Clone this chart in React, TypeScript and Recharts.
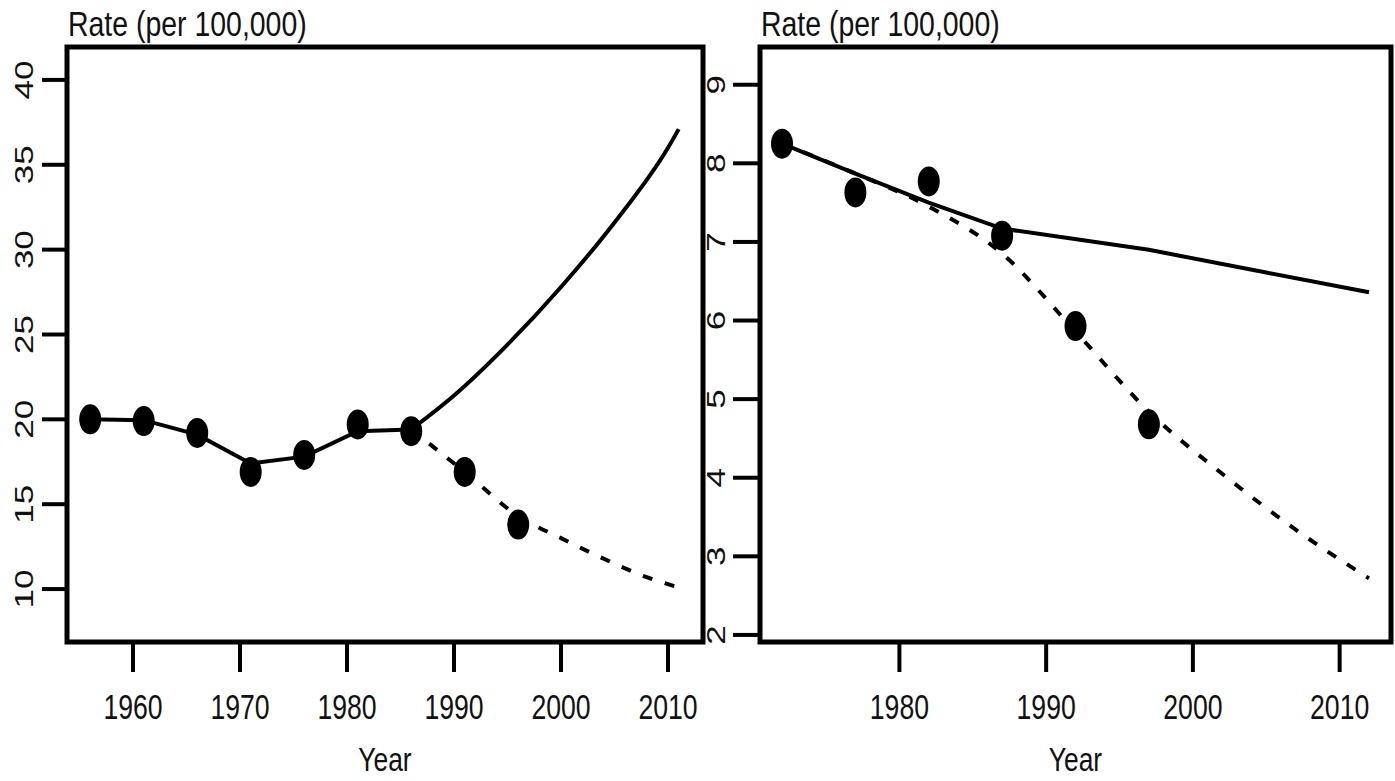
import { Line, LineChart, ReferenceArea, XAxis, YAxis } from 'recharts';

// left panel: observed points + fitted/projection lines
const leftObsYears = [1956, 1961, 1966, 1971, 1976, 1981, 1986, 1991, 1996];
const leftObsRate = [20.0, 19.9, 19.2, 16.9, 17.9, 19.7, 19.3, 16.9, 13.8];
const leftFitYears = [1956, 1961, 1966, 1971, 1976, 1981, 1986];
const leftFitRate = [20.0, 19.95, 19.1, 17.4, 17.8, 19.3, 19.4];
const leftHighYears = [1986, 1990, 1995, 2000, 2005, 2010, 2011];
const leftHighRate = [19.4, 21.4, 24.4, 27.8, 31.6, 36.0, 37.1];
const leftLowYears = [1986, 1991, 1996, 2000, 2005, 2008, 2011];
const leftLowRate = [19.4, 16.9, 14.3, 13.0, 11.5, 10.7, 10.1];
const leftXTicks = [1960, 1970, 1980, 1990, 2000, 2010];
const leftYTicks = [10, 15, 20, 25, 30, 35, 40];

// right panel
const rightObsYears = [1972, 1977, 1982, 1987, 1992, 1997];
const rightObsRate = [8.25, 7.63, 7.77, 7.08, 5.93, 4.68];
const rightHighYears = [1972, 1977, 1982, 1987, 1997, 2005, 2012];
const rightHighRate = [8.25, 7.87, 7.5, 7.17, 6.9, 6.61, 6.36];
const rightLowYears = [1972, 1977, 1982, 1987, 1992, 1997, 2002, 2007, 2012];
const rightLowRate = [8.25, 7.87, 7.45, 6.85, 5.86, 4.84, 4.05, 3.34, 2.72];
const rightXTicks = [1980, 1990, 2000, 2010];
const rightYTicks = [2, 3, 4, 5, 6, 7, 8, 9];

const FONT = "'Liberation Sans', Arial, Helvetica, sans-serif";

function toRows(years: number[], rates: number[]) {
  return years.map((year, i) => ({ year, rate: rates[i] }));
}

function BigDot(props: any) {
  const { cx, cy, index } = props;
  if (cx == null || cy == null) return <g key={index} />;
  return <ellipse key={index} cx={cx} cy={cy} rx={11} ry={15} fill="#000" />;
}

function XTick({ x, y, payload }: any) {
  return (
    <text
      transform={`translate(${x},${y + 45}) scale(0.74,1)`}
      textAnchor="middle"
      fontSize={36}
      fontFamily={FONT}
      fill="#111"
    >
      {payload.value}
    </text>
  );
}

function makeYTick(offset: number) {
  return ({ x, y, payload }: any) => (
    <text
      transform={`translate(${x - offset},${y}) rotate(-90) scale(1.4,1)`}
      textAnchor="middle"
      fontSize={25}
      fontFamily={FONT}
      fill="#111"
    >
      {payload.value}
    </text>
  );
}

function TitleLabel({ viewBox }: any) {
  return (
    <text
      transform={`translate(${viewBox.x + viewBox.width + 1},${viewBox.y - 11}) scale(0.79,1)`}
      fontSize={36}
      fontFamily={FONT}
      fill="#111"
    >
      Rate (per 100,000)
    </text>
  );
}

function YearLabel({ viewBox }: any) {
  return (
    <text
      transform={`translate(${viewBox.x + viewBox.width / 2},${viewBox.y + 129}) scale(0.8,1)`}
      textAnchor="middle"
      fontSize={33}
      fontFamily={FONT}
      fill="#111"
    >
      Year
    </text>
  );
}

interface PanelProps {
  width: number;
  margin: { top: number; right: number; bottom: number; left: number };
  yAxisWidth: number;
  yTickSize: number;
  yLabelOffset: number;
  xDomain: [number, number];
  yDomain: [number, number];
  xTicks: number[];
  yTicks: number[];
  obs: { year: number; rate: number }[];
  solid: { year: number; rate: number }[][];
  solidTypes: ('linear' | 'monotone')[];
  dashed: { year: number; rate: number }[];
}

function Panel(p: PanelProps) {
  return (
    <LineChart width={p.width} height={781} margin={p.margin}>
      <XAxis
        dataKey="year"
        type="number"
        domain={p.xDomain}
        ticks={p.xTicks}
        allowDataOverflow
        axisLine={false}
        tickSize={30}
        tickLine={{ stroke: '#000', strokeWidth: 4 }}
        tick={<XTick />}
        height={139}
        label={<YearLabel />}
      />
      <YAxis
        type="number"
        domain={p.yDomain}
        ticks={p.yTicks}
        allowDataOverflow
        axisLine={false}
        tickSize={p.yTickSize}
        tickLine={{ stroke: '#000', strokeWidth: 4 }}
        tick={makeYTick(p.yLabelOffset)}
        width={p.yAxisWidth}
        label={<TitleLabel />}
      />
      <ReferenceArea
        x1={p.xDomain[0]}
        x2={p.xDomain[1]}
        y1={p.yDomain[0]}
        y2={p.yDomain[1]}
        fill="none"
        stroke="#000"
        strokeWidth={5}
        ifOverflow="visible"
      />
      {p.solid.map((rows, i) => (
        <Line
          key={'s' + i}
          data={rows}
          dataKey="rate"
          type={p.solidTypes[i]}
          stroke="#000"
          strokeWidth={4}
          dot={false}
          isAnimationActive={false}
        />
      ))}
      <Line
        data={p.dashed}
        dataKey="rate"
        type="monotone"
        stroke="#000"
        strokeWidth={4}
        strokeDasharray="10 13"
        dot={false}
        isAnimationActive={false}
      />
      <Line
        data={p.obs}
        dataKey="rate"
        stroke="none"
        dot={(d: any) => <BigDot {...d} key={d.index} />}
        isAnimationActive={false}
      />
    </LineChart>
  );
}

export default function App() {
  return (
    <div style={{ position: 'absolute', left: 0, top: 0, width: 1395, height: 781, background: '#fff' }}>
      <div style={{ position: 'absolute', left: 0, top: 0 }}>
        <Panel
          width={720}
          margin={{ top: 47, right: 17, bottom: 0, left: 0 }}
          yAxisWidth={67}
          yTickSize={25}
          yLabelOffset={7}
          xDomain={[1953.83, 2013.27]}
          yDomain={[6.88, 41.94]}
          xTicks={leftXTicks}
          yTicks={leftYTicks}
          obs={toRows(leftObsYears, leftObsRate)}
          solid={[toRows(leftFitYears, leftFitRate), toRows(leftHighYears, leftHighRate)]}
          solidTypes={['linear', 'monotone']}
          dashed={toRows(leftLowYears, leftLowRate)}
        />
      </div>
      <div style={{ position: 'absolute', left: 700, top: 0 }}>
        <Panel
          width={695}
          margin={{ top: 47, right: 4, bottom: 0, left: 0 }}
          yAxisWidth={60}
          yTickSize={27}
          yLabelOffset={6}
          xDomain={[1970.5, 2013.5]}
          yDomain={[1.91, 9.48]}
          xTicks={rightXTicks}
          yTicks={rightYTicks}
          obs={toRows(rightObsYears, rightObsRate)}
          solid={[toRows(rightHighYears, rightHighRate)]}
          solidTypes={['linear']}
          dashed={toRows(rightLowYears, rightLowRate)}
        />
      </div>
    </div>
  );
}
